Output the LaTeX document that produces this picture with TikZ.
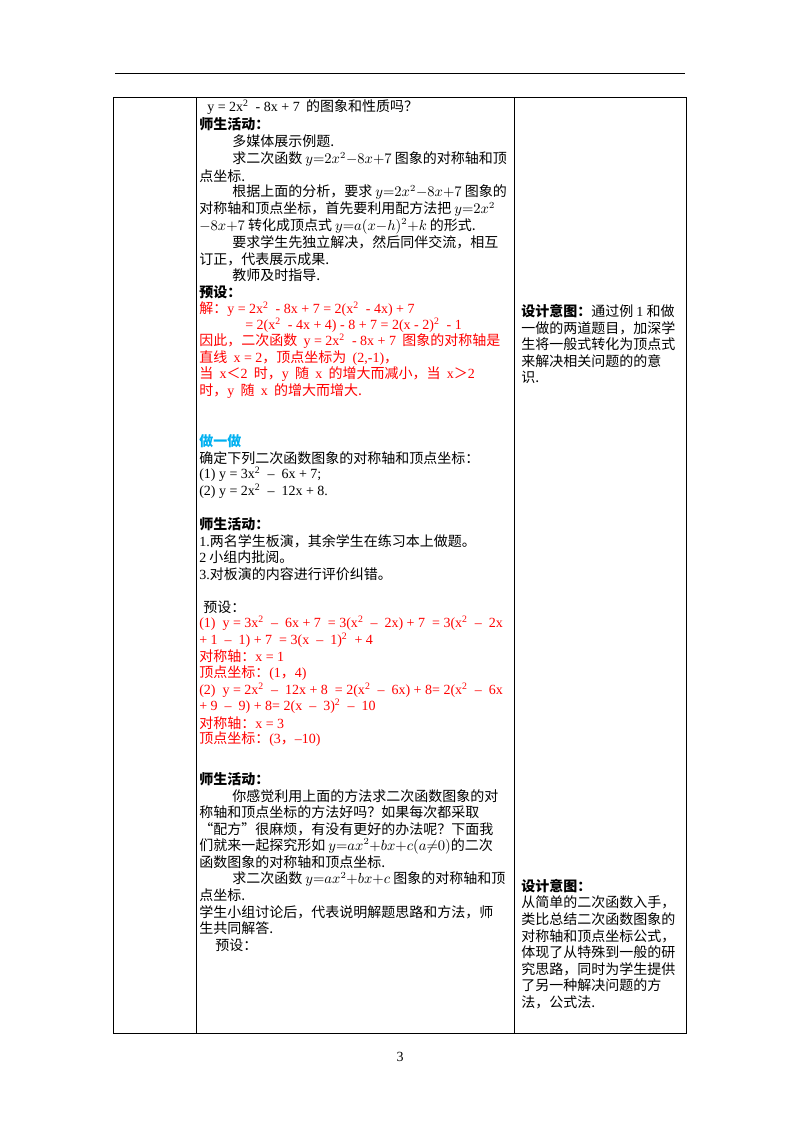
\documentclass[tikz,border=0pt]{standalone}
\usepackage{fontspec}
\setmainfont{Noto Sans CJK SC}
\newfontfamily\tm{Liberation Serif}
\definecolor{hong}{RGB}{255,0,0}
\definecolor{qing}{RGB}{0,176,240}
\tikzset{
  txt/.style={anchor=west,inner sep=0pt,font=\fontsize{10.5}{12}\selectfont},
  biao/.style={line width=0.6pt}
}
\newcommand\tx[3][]{\node[txt,#1] at (#2) {#3};}
\begin{document}
\begin{tikzpicture}[x=0.75pt,y=-0.75pt]
		\useasboundingbox (0,0) rectangle (800,1132);
		% header rule and table
		\draw[line width=0.5pt] (115,73) -- (685,73);
		\draw[biao] (113,97) rectangle (686,1033);
		\draw[biao] (196,97) -- (196,1033);
		\draw[biao] (514,97) -- (514,1033);
		\node[txt,anchor=center] (page) at (400,1057) {\tm 3};
		
		% column 2, part 1
		\tx{207,107}{{\tm y = 2x\textsuperscript{2}\ \ - 8x + 7}\ \ 的图象和性质吗？}
		\tx{199,124}{\bfseries 师生活动：}
		\tx{232,141}{多媒体展示例题.}
		\tx{232,159}{求二次函数 $y{=}2x^2{-}8x{+}7$ 图象的对称轴和顶}
		\tx{199,176}{点坐标.}
		\tx{232,192}{根据上面的分析，要求 $y{=}2x^2{-}8x{+}7$ 图象的}
		\tx{199,209}{对称轴和顶点坐标，首先要利用配方法把 $y{=}2x^2$}
		\tx{199,226}{$-8x{+}7$ 转化成顶点式 $y{=}a(x{-}h)^2{+}k$ 的形式.}
		\tx{232,242}{要求学生先独立解决，然后同伴交流，相互}
		\tx{199,259}{订正，代表展示成果.}
		\tx{232,275}{教师及时指导.}
		\tx{199,292}{\bfseries 预设：}
		\tx[text=hong]{199,309}{解：{\tm y = 2x\textsuperscript{2}\ \ - 8x + 7 = 2(x\textsuperscript{2}\ \ - 4x) + 7}}
		\tx[text=hong]{245,325}{\tm = 2(x\textsuperscript{2}\ \ - 4x + 4) - 8 + 7 = 2(x - 2)\textsuperscript{2}\ \ - 1}
		\tx[text=hong]{199,341}{因此，二次函数\ \ {\tm y = 2x\textsuperscript{2}\ \ - 8x + 7}\ \ 图象的对称轴是}
		\tx[text=hong]{199,358}{直线\ \ {\tm x = 2}，顶点坐标为\ \ {\tm (2,-1)}，}
		\tx[text=hong]{199,374}{当\ \ {\tm x}＜{\tm 2}\ \ 时，{\tm y}\ \ 随\ \ {\tm x}\ \ 的增大而减小，当\ \ {\tm x}＞{\tm 2}}
		\tx[text=hong]{199,391}{时，{\tm y}\ \ 随\ \ {\tm x}\ \ 的增大而增大.}
		
		% column 2, part 2
		\tx[text=qing,font=\fontsize{10.5}{12}\selectfont\bfseries]{199,441}{做一做}
		\tx{199,458}{确定下列二次函数图象的对称轴和顶点坐标：}
		\tx{199,474}{\tm (1) y = 3x\textsuperscript{2}\ \ –\ \ 6x + 7;}
		\tx{199,491}{\tm (2) y = 2x\textsuperscript{2}\ \ –\ \ 12x + 8.}
		\tx{199,524}{\bfseries 师生活动：}
		\tx{199,541}{{\tm 1.}两名学生板演，其余学生在练习本上做题。}
		\tx{199,557}{{\tm 2} 小组内批阅。}
		\tx{199,574}{{\tm 3.}对板演的内容进行评价纠错。}
		\tx{203,607}{预设：}
		\tx[text=hong]{199,623}{\tm (1)\ \ y = 3x\textsuperscript{2}\ \ –\ \ 6x + 7\ \ = 3(x\textsuperscript{2}\ \ –\ \ 2x) + 7\ \ = 3(x\textsuperscript{2}\ \ –\ \ 2x}
		\tx[text=hong]{199,640}{\tm + 1\ \ –\ \ 1) + 7\ \ = 3(x\ \ –\ \ 1)\textsuperscript{2}\ \ + 4}
		\tx[text=hong]{199,656}{对称轴：{\tm x = 1}}
		\tx[text=hong]{199,673}{顶点坐标：{\tm (1}，{\tm 4)}}
		\tx[text=hong]{199,690}{\tm (2)\ \ y = 2x\textsuperscript{2}\ \ –\ \ 12x + 8\ \ = 2(x\textsuperscript{2}\ \ –\ \ 6x) + 8= 2(x\textsuperscript{2}\ \ –\ \ 6x}
		\tx[text=hong]{199,706}{\tm + 9\ \ –\ \ 9) + 8= 2(x\ \ –\ \ 3)\textsuperscript{2}\ \ –\ \ 10}
		\tx[text=hong]{199,723}{对称轴：{\tm x = 3}}
		\tx[text=hong]{199,739}{顶点坐标：{\tm (3}，{\tm –10)}}
		
		% column 2, part 3
		\tx{199,779}{\bfseries 师生活动：}
		\tx{232,796}{你感觉利用上面的方法求二次函数图象的对}
		\tx{199,812}{称轴和顶点坐标的方法好吗？如果每次都采取}
		\tx{199,829}{“配方”很麻烦，有没有更好的办法呢？下面我}
		\tx{199,846}{们就来一起探究形如 $y{=}ax^2{+}bx{+}c(a{\neq}0)$的二次}
		\tx{199,862}{函数图象的对称轴和顶点坐标.}
		\tx{232,879}{求二次函数 $y{=}ax^2{+}bx{+}c$ 图象的对称轴和顶}
		\tx{199,895}{点坐标.}
		\tx{199,912}{学生小组讨论后，代表说明解题思路和方法，师}
		\tx{199,928}{生共同解答.}
		\tx{215,945}{预设：}
		
		% column 3
		\tx{521,311}{\textbf{设计意图：}通过例\ {\tm 1}\ 和做}
		\tx{521,328}{一做的两道题目，加深学}
		\tx{521,344}{生将一般式转化为顶点式}
		\tx{521,361}{来解决相关问题的的意}
		\tx{521,377}{识.}
		\tx{521,886}{\bfseries 设计意图：}
		\tx{521,902}{从简单的二次函数入手，}
		\tx{521,919}{类比总结二次函数图象的}
		\tx{521,936}{对称轴和顶点坐标公式，}
		\tx{521,952}{体现了从特殊到一般的研}
		\tx{521,969}{究思路，同时为学生提供}
		\tx{521,985}{了另一种解决问题的方}
		\tx{521,1002}{法，公式法.}
\end{tikzpicture}
\end{document}
